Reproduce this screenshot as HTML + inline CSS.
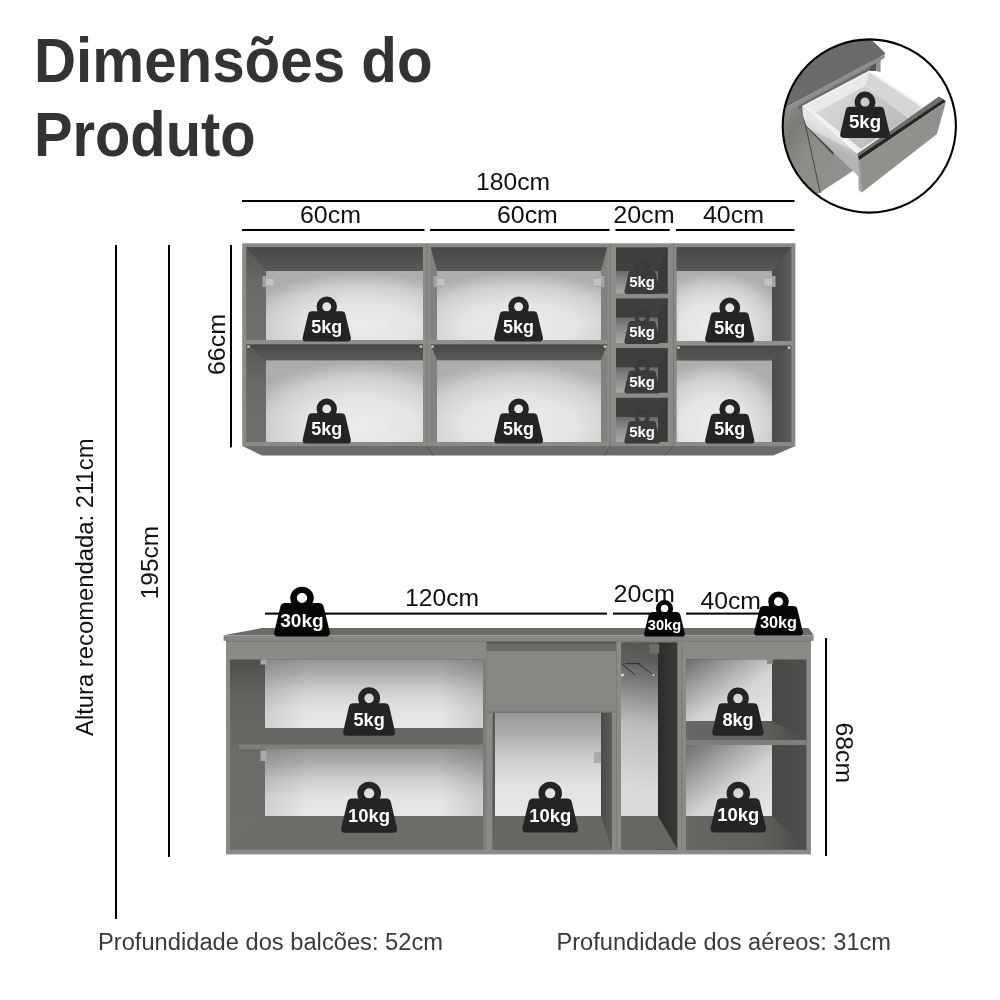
<!DOCTYPE html>
<html><head><meta charset="utf-8"><title>Dimens&#245;es do Produto</title>
<style>html,body{margin:0;padding:0;background:#fff;}body{width:1000px;height:1000px;overflow:hidden;font-family:"Liberation Sans", sans-serif;}svg{display:block;will-change:transform;font-family:"Liberation Sans", sans-serif;}</style>
</head><body>
<svg width="1000" height="1000" viewBox="0 0 1000 1000">
<defs>
<linearGradient id="bpv" x1="0" y1="0" x2="0" y2="1"><stop offset="0" stop-color="#b4b4b4"/><stop offset="0.3" stop-color="#d2d2d2"/><stop offset="0.7" stop-color="#e4e4e4"/><stop offset="1" stop-color="#e8e8e8"/></linearGradient>
<linearGradient id="bpl" x1="0" y1="0" x2="0" y2="1"><stop offset="0" stop-color="#969696"/><stop offset="0.2" stop-color="#acacac"/><stop offset="0.45" stop-color="#cdcdcd"/><stop offset="0.7" stop-color="#e2e2e2"/><stop offset="1" stop-color="#e8e8e8"/></linearGradient>
<linearGradient id="nv" gradientUnits="userSpaceOnUse" x1="652" y1="643" x2="630" y2="790"><stop offset="0" stop-color="#555653"/><stop offset="0.14" stop-color="#5f605d"/><stop offset="0.32" stop-color="#878787"/><stop offset="0.55" stop-color="#bcbcbc"/><stop offset="1" stop-color="#dadada"/></linearGradient>
<linearGradient id="bpr" gradientUnits="objectBoundingBox" x1="0" y1="0" x2="0.9" y2="1"><stop offset="0" stop-color="#6c6c6c"/><stop offset="0.3" stop-color="#a2a2a2"/><stop offset="0.6" stop-color="#d4d4d4"/><stop offset="1" stop-color="#e6e6e6"/></linearGradient>
<linearGradient id="flr" x1="0" y1="0" x2="1" y2="0"><stop offset="0" stop-color="#666864"/><stop offset="0.6" stop-color="#60625e"/><stop offset="1" stop-color="#4a4b48"/></linearGradient>
<linearGradient id="dw2" x1="0" y1="0" x2="1" y2="0"><stop offset="0" stop-color="#2b2b2a"/><stop offset="1" stop-color="#3b3b39"/></linearGradient>
<radialGradient id="rb1" cx="0.60" cy="0.8" r="0.78" fx="0.60" fy="0.8"><stop offset="0" stop-color="#ececec"/><stop offset="0.45" stop-color="#e4e4e4"/><stop offset="0.75" stop-color="#cfcfcf"/><stop offset="1" stop-color="#adadad"/></radialGradient>
<radialGradient id="rb2" cx="0.50" cy="0.8" r="0.78" fx="0.50" fy="0.8"><stop offset="0" stop-color="#ececec"/><stop offset="0.45" stop-color="#e4e4e4"/><stop offset="0.75" stop-color="#cfcfcf"/><stop offset="1" stop-color="#adadad"/></radialGradient>
<radialGradient id="rb4" cx="0.40" cy="0.8" r="0.78" fx="0.40" fy="0.8"><stop offset="0" stop-color="#ececec"/><stop offset="0.45" stop-color="#e4e4e4"/><stop offset="0.75" stop-color="#cfcfcf"/><stop offset="1" stop-color="#adadad"/></radialGradient>
<linearGradient id="bph" x1="0" y1="0" x2="1" y2="0"><stop offset="0" stop-color="#000" stop-opacity="0.22"/><stop offset="0.18" stop-color="#000" stop-opacity="0"/><stop offset="0.82" stop-color="#000" stop-opacity="0"/><stop offset="1" stop-color="#000" stop-opacity="0.22"/></linearGradient>
<linearGradient id="bph2" x1="0" y1="0" x2="1" y2="0"><stop offset="0" stop-color="#000" stop-opacity="0.10"/><stop offset="0.2" stop-color="#000" stop-opacity="0"/><stop offset="0.8" stop-color="#000" stop-opacity="0"/><stop offset="1" stop-color="#000" stop-opacity="0.12"/></linearGradient>
<linearGradient id="bpd3" x1="0" y1="0" x2="0" y2="1"><stop offset="0" stop-color="#6a6a6a"/><stop offset="0.5" stop-color="#8c8c8c"/><stop offset="1" stop-color="#a8a8a8"/></linearGradient>
<linearGradient id="ceil" x1="0" y1="0" x2="0" y2="1"><stop offset="0" stop-color="#474846"/><stop offset="1" stop-color="#595a57"/></linearGradient>
<linearGradient id="wl2" x1="0" y1="0" x2="0" y2="1"><stop offset="0" stop-color="#4e4f4c"/><stop offset="0.2" stop-color="#62635f"/><stop offset="0.5" stop-color="#6a6c68"/><stop offset="1" stop-color="#6c6e6a"/></linearGradient>
<linearGradient id="wl" x1="0" y1="0" x2="0" y2="1"><stop offset="0" stop-color="#555653"/><stop offset="0.4" stop-color="#686a66"/><stop offset="1" stop-color="#6e706c"/></linearGradient>
<linearGradient id="bpd" x1="0" y1="0" x2="0" y2="1"><stop offset="0" stop-color="#6c6c6c"/><stop offset="0.3" stop-color="#9a9a9a"/><stop offset="0.7" stop-color="#d2d2d2"/><stop offset="1" stop-color="#e2e2e2"/></linearGradient>
<linearGradient id="dwu" x1="0" y1="0" x2="1" y2="0"><stop offset="0" stop-color="#4a4b48"/><stop offset="1" stop-color="#5c5d5a"/></linearGradient>
<linearGradient id="dw" x1="0" y1="0" x2="1" y2="0"><stop offset="0" stop-color="#3a3b38"/><stop offset="1" stop-color="#4e4f4c"/></linearGradient>
<linearGradient id="nich" x1="0" y1="0" x2="1" y2="0"><stop offset="0" stop-color="#7a7a7a"/><stop offset="0.45" stop-color="#e0e0e0"/><stop offset="1" stop-color="#a8a8a8"/></linearGradient>
<linearGradient id="cabf" gradientUnits="userSpaceOnUse" x1="775" y1="120" x2="850" y2="170"><stop offset="0" stop-color="#8e908b"/><stop offset="0.22" stop-color="#7a7b78"/><stop offset="0.5" stop-color="#8b8d88"/><stop offset="1" stop-color="#8f918c"/></linearGradient>
<linearGradient id="dwl" gradientUnits="userSpaceOnUse" x1="835" y1="130" x2="827" y2="146"><stop offset="0" stop-color="#e6e6e6"/><stop offset="0.55" stop-color="#dadada"/><stop offset="0.6" stop-color="#c2c2c2"/><stop offset="1" stop-color="#b4b4b4"/></linearGradient>
<linearGradient id="dfl" gradientUnits="userSpaceOnUse" x1="830" y1="100" x2="880" y2="145"><stop offset="0" stop-color="#d6d6d6"/><stop offset="1" stop-color="#bcbcbc"/></linearGradient>
<clipPath id="cc"><circle cx="869.3" cy="126" r="86.4"/></clipPath>
</defs>
<rect width="1000" height="1000" fill="#fff"/>
<text x="34.0" y="81.6" font-size="63.20" font-weight="bold" fill="#333" text-anchor="start" textLength="398.5" lengthAdjust="spacingAndGlyphs" >Dimens&#245;es do</text>
<text x="34.0" y="156.3" font-size="63.20" font-weight="bold" fill="#333" text-anchor="start" textLength="221.5" lengthAdjust="spacingAndGlyphs" >Produto</text>
<rect x="242.0" y="200.0" width="552.5" height="2.0" fill="#000"/>
<rect x="242.0" y="229.0" width="182.5" height="2.0" fill="#000"/>
<rect x="430.0" y="229.0" width="179.5" height="2.0" fill="#000"/>
<rect x="615.5" y="229.0" width="54.2" height="2.0" fill="#000"/>
<rect x="676.0" y="229.0" width="118.5" height="2.0" fill="#000"/>
<text x="476.0" y="190.0" font-size="23.10" font-weight="normal" fill="#111" text-anchor="start" textLength="74.0" lengthAdjust="spacingAndGlyphs" >180cm</text>
<text x="300.0" y="223.3" font-size="23.10" font-weight="normal" fill="#111" text-anchor="start" textLength="61.0" lengthAdjust="spacingAndGlyphs" >60cm</text>
<text x="497.0" y="223.3" font-size="23.10" font-weight="normal" fill="#111" text-anchor="start" textLength="60.8" lengthAdjust="spacingAndGlyphs" >60cm</text>
<text x="613.2" y="223.3" font-size="23.10" font-weight="normal" fill="#111" text-anchor="start" textLength="61.4" lengthAdjust="spacingAndGlyphs" >20cm</text>
<text x="703.0" y="223.3" font-size="23.10" font-weight="normal" fill="#111" text-anchor="start" textLength="61.0" lengthAdjust="spacingAndGlyphs" >40cm</text>
<rect x="115.0" y="245.0" width="2.0" height="674.0" fill="#000"/>
<rect x="168.0" y="245.0" width="2.0" height="612.0" fill="#000"/>
<rect x="230.0" y="245.0" width="2.0" height="202.4" fill="#000"/>
<g transform="translate(92.5,736) rotate(-90)">
<text x="0.0" y="0.0" font-size="23.10" font-weight="normal" fill="#111" text-anchor="start" textLength="297.5" lengthAdjust="spacingAndGlyphs" >Altura recomendada: 211cm</text>
</g>
<g transform="translate(158.2,599.2) rotate(-90)">
<text x="0.0" y="0.0" font-size="23.10" font-weight="normal" fill="#111" text-anchor="start" textLength="73.2" lengthAdjust="spacingAndGlyphs" >195cm</text>
</g>
<g transform="translate(225.3,375) rotate(-90)">
<text x="0.0" y="0.0" font-size="23.10" font-weight="normal" fill="#111" text-anchor="start" textLength="61.0" lengthAdjust="spacingAndGlyphs" >66cm</text>
</g>
<text x="98.0" y="949.8" font-size="23.10" font-weight="normal" fill="#3a3a3a" text-anchor="start" textLength="345.0" lengthAdjust="spacingAndGlyphs" >Profundidade dos balc&#245;es: 52cm</text>
<text x="556.5" y="949.8" font-size="23.10" font-weight="normal" fill="#3a3a3a" text-anchor="start" textLength="334.5" lengthAdjust="spacingAndGlyphs" >Profundidade dos a&#233;reos: 31cm</text>
<polygon points="242.3,446.0 795.4,446.0 773.4,455.5 262.0,455.5" fill="#6b6d69" />
<path d="M427,446 L433,455.5 M610,446 L604.5,455.5 M673.5,446 L665,455.5" stroke="#575855" stroke-width="1" fill="none"/>
<rect x="242.3" y="445.2" width="553.1" height="1.0" fill="#7b7d78" />
<rect x="242.2" y="243.3" width="184.8" height="202.7" fill="#898b86" />
<rect x="427.0" y="243.3" width="183.0" height="202.7" fill="#898b86" />
<rect x="426.6" y="243.3" width="0.8" height="202.7" fill="#777974" />
<rect x="610.0" y="243.3" width="63.5" height="202.7" fill="#898b86" />
<rect x="609.5" y="243.3" width="1.0" height="202.7" fill="#777974" />
<rect x="673.5" y="243.3" width="121.9" height="202.7" fill="#898b86" />
<rect x="673.0" y="243.3" width="1.0" height="202.7" fill="#777974" />
<rect x="246.2" y="247.2" width="176.8" height="93.0" fill="url(#wl)" />
<rect x="266.0" y="271.0" width="157.0" height="69.2" fill="url(#rb1)" />
<polygon points="246.2,247.2 423.0,247.2 423.0,271.0 266.0,271.0" fill="url(#ceil)" />
<rect x="246.2" y="344.2" width="176.8" height="97.8" fill="url(#wl)" />
<rect x="266.0" y="360.2" width="157.0" height="81.8" fill="url(#rb1)" />
<polygon points="246.2,344.2 423.0,344.2 423.0,360.2 266.0,360.2" fill="url(#ceil)" />
<rect x="246.2" y="340.2" width="176.8" height="4.0" fill="#8d8f8a" />
<rect x="430.6" y="247.2" width="176.6" height="93.0" fill="#80827d" />
<rect x="601.0" y="247.2" width="6.2" height="93.0" fill="#80827d" />
<rect x="437.0" y="271.0" width="164.0" height="69.2" fill="url(#rb2)" />
<polygon points="430.6,247.2 607.2,247.2 601.0,271.0 437.0,271.0" fill="url(#ceil)" />
<rect x="430.6" y="344.2" width="176.6" height="97.8" fill="#80827d" />
<rect x="601.0" y="344.2" width="6.2" height="97.8" fill="#80827d" />
<rect x="437.0" y="360.2" width="164.0" height="81.8" fill="url(#rb2)" />
<polygon points="430.6,344.2 607.2,344.2 601.0,360.2 437.0,360.2" fill="url(#ceil)" />
<rect x="430.6" y="340.2" width="176.6" height="4.0" fill="#8d8f8a" />
<rect x="616.0" y="247.6" width="51.7" height="46.2" fill="#6d6f6b" />
<rect x="657.8" y="247.6" width="9.9" height="46.2" fill="#3a3b39" />
<rect x="616.0" y="271.1" width="41.8" height="22.7" fill="url(#bpd3)" />
<polygon points="616.0,247.6 667.7,247.6 657.8,271.1 616.0,271.1" fill="#3f403e" />
<rect x="616.0" y="298.3" width="51.7" height="44.7" fill="#6d6f6b" />
<rect x="657.8" y="298.3" width="9.9" height="44.7" fill="#3a3b39" />
<rect x="616.0" y="317.6" width="41.8" height="25.4" fill="url(#bpd3)" />
<polygon points="616.0,298.3 667.7,298.3 657.8,317.6 616.0,317.6" fill="#3f403e" />
<rect x="616.0" y="348.0" width="51.7" height="44.8" fill="#6d6f6b" />
<rect x="657.8" y="348.0" width="9.9" height="44.8" fill="#3a3b39" />
<rect x="616.0" y="367.3" width="41.8" height="25.5" fill="url(#bpd3)" />
<polygon points="616.0,348.0 667.7,348.0 657.8,367.3 616.0,367.3" fill="#3f403e" />
<rect x="616.0" y="397.6" width="51.7" height="44.2" fill="#6d6f6b" />
<rect x="657.8" y="397.6" width="9.9" height="44.2" fill="#3a3b39" />
<rect x="616.0" y="416.9" width="41.8" height="24.9" fill="url(#bpd3)" />
<polygon points="616.0,397.6 667.7,397.6 657.8,416.9 616.0,416.9" fill="#3f403e" />
<rect x="616.0" y="293.8" width="51.7" height="4.5" fill="#8a8c87" />
<rect x="616.0" y="343.0" width="51.7" height="5.0" fill="#8a8c87" />
<rect x="616.0" y="392.8" width="51.7" height="4.8" fill="#8a8c87" />
<rect x="676.6" y="247.2" width="114.7" height="93.8" fill="#6d6f6b" />
<rect x="772.0" y="247.2" width="19.3" height="93.8" fill="url(#dwu)" />
<rect x="676.6" y="271.0" width="95.4" height="70.0" fill="url(#rb4)" />
<polygon points="676.6,247.2 791.3,247.2 772.0,271.0 676.6,271.0" fill="url(#ceil)" />
<rect x="676.6" y="345.4" width="114.7" height="96.6" fill="#6d6f6b" />
<rect x="772.0" y="345.4" width="19.3" height="96.6" fill="url(#dwu)" />
<rect x="676.6" y="360.4" width="95.4" height="81.6" fill="url(#rb4)" />
<polygon points="676.6,345.4 791.3,345.4 772.0,360.4 676.6,360.4" fill="url(#ceil)" />
<rect x="676.6" y="341.0" width="114.7" height="4.4" fill="#8d8f8a" />
<rect x="247.2" y="345.6" width="2.6" height="2.0" fill="#d8d8d8" />
<rect x="419.7" y="345.6" width="2.6" height="2.0" fill="#d8d8d8" />
<rect x="431.2" y="345.6" width="2.6" height="2.0" fill="#d8d8d8" />
<rect x="603.7" y="345.6" width="2.6" height="2.0" fill="#d8d8d8" />
<rect x="677.2" y="346.6" width="2.6" height="2.0" fill="#d8d8d8" />
<rect x="787.7" y="346.6" width="2.6" height="2.0" fill="#d8d8d8" />
<rect x="262.5" y="276.0" width="3.5" height="11.0" fill="#a4a4a2" />
<rect x="266.0" y="279.0" width="7.5" height="8.0" fill="#c4c4c4" />
<rect x="266.0" y="285.6" width="7.5" height="1.4" fill="#a8a8a8" />
<rect x="433.5" y="276.0" width="3.5" height="11.0" fill="#a4a4a2" />
<rect x="437.0" y="279.0" width="7.5" height="8.0" fill="#c4c4c4" />
<rect x="437.0" y="285.6" width="7.5" height="1.4" fill="#a8a8a8" />
<rect x="601.0" y="276.0" width="3.5" height="11.0" fill="#a4a4a2" />
<rect x="593.5" y="279.0" width="7.5" height="8.0" fill="#c4c4c4" />
<rect x="593.5" y="285.6" width="7.5" height="1.4" fill="#a8a8a8" />
<rect x="772.0" y="276.0" width="3.5" height="11.0" fill="#a4a4a2" />
<rect x="764.5" y="279.0" width="7.5" height="8.0" fill="#c4c4c4" />
<rect x="764.5" y="285.6" width="7.5" height="1.4" fill="#a8a8a8" />
<g transform="translate(302.50,295.80) scale(0.9898,1.0000)" fill="#242424" opacity="1.00"><path fill-rule="evenodd" d="M14.2,10.9 a10.3,10.3 0 1,0 20.6,0 a10.3,10.3 0 1,0 -20.6,0 Z M20,10.9 a4.5,4.5 0 1,0 9,0 a4.5,4.5 0 1,0 -9,0 Z"/><path d="M9.6,15.4 H39.4 Q42.7,15.4 43.4,18.6 L48.7,41.2 Q49.7,45.7 45.3,45.7 H3.7 Q-0.7,45.7 0.3,41.2 L5.6,18.6 Q6.3,15.4 9.6,15.4 Z"/></g>
<text x="326.8" y="332.6" font-size="17.60" font-weight="bold" fill="#fff" text-anchor="middle" textLength="31.0" lengthAdjust="spacingAndGlyphs" >5kg</text>
<g transform="translate(494.10,295.80) scale(1.0000,1.0000)" fill="#242424" opacity="1.00"><path fill-rule="evenodd" d="M14.2,10.9 a10.3,10.3 0 1,0 20.6,0 a10.3,10.3 0 1,0 -20.6,0 Z M20,10.9 a4.5,4.5 0 1,0 9,0 a4.5,4.5 0 1,0 -9,0 Z"/><path d="M9.6,15.4 H39.4 Q42.7,15.4 43.4,18.6 L48.7,41.2 Q49.7,45.7 45.3,45.7 H3.7 Q-0.7,45.7 0.3,41.2 L5.6,18.6 Q6.3,15.4 9.6,15.4 Z"/></g>
<text x="518.6" y="332.6" font-size="17.60" font-weight="bold" fill="#fff" text-anchor="middle" textLength="31.0" lengthAdjust="spacingAndGlyphs" >5kg</text>
<g transform="translate(302.50,398.00) scale(0.9898,0.9978)" fill="#242424" opacity="1.00"><path fill-rule="evenodd" d="M14.2,10.9 a10.3,10.3 0 1,0 20.6,0 a10.3,10.3 0 1,0 -20.6,0 Z M20,10.9 a4.5,4.5 0 1,0 9,0 a4.5,4.5 0 1,0 -9,0 Z"/><path d="M9.6,15.4 H39.4 Q42.7,15.4 43.4,18.6 L48.7,41.2 Q49.7,45.7 45.3,45.7 H3.7 Q-0.7,45.7 0.3,41.2 L5.6,18.6 Q6.3,15.4 9.6,15.4 Z"/></g>
<text x="326.8" y="434.7" font-size="17.60" font-weight="bold" fill="#fff" text-anchor="middle" textLength="31.0" lengthAdjust="spacingAndGlyphs" >5kg</text>
<g transform="translate(494.10,398.00) scale(1.0000,0.9978)" fill="#242424" opacity="1.00"><path fill-rule="evenodd" d="M14.2,10.9 a10.3,10.3 0 1,0 20.6,0 a10.3,10.3 0 1,0 -20.6,0 Z M20,10.9 a4.5,4.5 0 1,0 9,0 a4.5,4.5 0 1,0 -9,0 Z"/><path d="M9.6,15.4 H39.4 Q42.7,15.4 43.4,18.6 L48.7,41.2 Q49.7,45.7 45.3,45.7 H3.7 Q-0.7,45.7 0.3,41.2 L5.6,18.6 Q6.3,15.4 9.6,15.4 Z"/></g>
<text x="518.6" y="434.7" font-size="17.60" font-weight="bold" fill="#fff" text-anchor="middle" textLength="31.0" lengthAdjust="spacingAndGlyphs" >5kg</text>
<g transform="translate(705.00,297.00) scale(1.0102,0.9956)" fill="#242424" opacity="1.00"><path fill-rule="evenodd" d="M14.2,10.9 a10.3,10.3 0 1,0 20.6,0 a10.3,10.3 0 1,0 -20.6,0 Z M20,10.9 a4.5,4.5 0 1,0 9,0 a4.5,4.5 0 1,0 -9,0 Z"/><path d="M9.6,15.4 H39.4 Q42.7,15.4 43.4,18.6 L48.7,41.2 Q49.7,45.7 45.3,45.7 H3.7 Q-0.7,45.7 0.3,41.2 L5.6,18.6 Q6.3,15.4 9.6,15.4 Z"/></g>
<text x="729.8" y="333.6" font-size="17.60" font-weight="bold" fill="#fff" text-anchor="middle" textLength="31.0" lengthAdjust="spacingAndGlyphs" >5kg</text>
<g transform="translate(705.00,398.50) scale(1.0102,0.9869)" fill="#242424" opacity="1.00"><path fill-rule="evenodd" d="M14.2,10.9 a10.3,10.3 0 1,0 20.6,0 a10.3,10.3 0 1,0 -20.6,0 Z M20,10.9 a4.5,4.5 0 1,0 9,0 a4.5,4.5 0 1,0 -9,0 Z"/><path d="M9.6,15.4 H39.4 Q42.7,15.4 43.4,18.6 L48.7,41.2 Q49.7,45.7 45.3,45.7 H3.7 Q-0.7,45.7 0.3,41.2 L5.6,18.6 Q6.3,15.4 9.6,15.4 Z"/></g>
<text x="729.8" y="434.8" font-size="17.60" font-weight="bold" fill="#fff" text-anchor="middle" textLength="31.0" lengthAdjust="spacingAndGlyphs" >5kg</text>
<g transform="translate(624.30,259.30) scale(0.7286,0.7571)" fill="#3b3b3b" opacity="1.00"><path fill-rule="evenodd" d="M14.2,10.9 a10.3,10.3 0 1,0 20.6,0 a10.3,10.3 0 1,0 -20.6,0 Z M20,10.9 a4.5,4.5 0 1,0 9,0 a4.5,4.5 0 1,0 -9,0 Z"/><path d="M9.6,15.4 H39.4 Q42.7,15.4 43.4,18.6 L48.7,41.2 Q49.7,45.7 45.3,45.7 H3.7 Q-0.7,45.7 0.3,41.2 L5.6,18.6 Q6.3,15.4 9.6,15.4 Z"/></g>
<text x="642.1" y="286.9" font-size="14.20" font-weight="bold" fill="#fff" text-anchor="middle" textLength="25.8" lengthAdjust="spacingAndGlyphs" >5kg</text>
<g transform="translate(624.30,309.30) scale(0.7286,0.7593)" fill="#3b3b3b" opacity="1.00"><path fill-rule="evenodd" d="M14.2,10.9 a10.3,10.3 0 1,0 20.6,0 a10.3,10.3 0 1,0 -20.6,0 Z M20,10.9 a4.5,4.5 0 1,0 9,0 a4.5,4.5 0 1,0 -9,0 Z"/><path d="M9.6,15.4 H39.4 Q42.7,15.4 43.4,18.6 L48.7,41.2 Q49.7,45.7 45.3,45.7 H3.7 Q-0.7,45.7 0.3,41.2 L5.6,18.6 Q6.3,15.4 9.6,15.4 Z"/></g>
<text x="642.1" y="336.9" font-size="14.20" font-weight="bold" fill="#fff" text-anchor="middle" textLength="25.8" lengthAdjust="spacingAndGlyphs" >5kg</text>
<g transform="translate(624.30,359.00) scale(0.7286,0.7527)" fill="#3b3b3b" opacity="1.00"><path fill-rule="evenodd" d="M14.2,10.9 a10.3,10.3 0 1,0 20.6,0 a10.3,10.3 0 1,0 -20.6,0 Z M20,10.9 a4.5,4.5 0 1,0 9,0 a4.5,4.5 0 1,0 -9,0 Z"/><path d="M9.6,15.4 H39.4 Q42.7,15.4 43.4,18.6 L48.7,41.2 Q49.7,45.7 45.3,45.7 H3.7 Q-0.7,45.7 0.3,41.2 L5.6,18.6 Q6.3,15.4 9.6,15.4 Z"/></g>
<text x="642.1" y="386.6" font-size="14.20" font-weight="bold" fill="#fff" text-anchor="middle" textLength="25.8" lengthAdjust="spacingAndGlyphs" >5kg</text>
<g transform="translate(624.30,409.40) scale(0.7286,0.7484)" fill="#3b3b3b" opacity="1.00"><path fill-rule="evenodd" d="M14.2,10.9 a10.3,10.3 0 1,0 20.6,0 a10.3,10.3 0 1,0 -20.6,0 Z M20,10.9 a4.5,4.5 0 1,0 9,0 a4.5,4.5 0 1,0 -9,0 Z"/><path d="M9.6,15.4 H39.4 Q42.7,15.4 43.4,18.6 L48.7,41.2 Q49.7,45.7 45.3,45.7 H3.7 Q-0.7,45.7 0.3,41.2 L5.6,18.6 Q6.3,15.4 9.6,15.4 Z"/></g>
<text x="642.1" y="437.0" font-size="14.20" font-weight="bold" fill="#fff" text-anchor="middle" textLength="25.8" lengthAdjust="spacingAndGlyphs" >5kg</text>
<rect x="226.0" y="640.0" width="585.0" height="214.4" fill="#898b86" />
<polygon points="262.0,628.0 808.5,628.0 813.6,635.3 223.6,635.3" fill="#6a6c68" />
<rect x="223.6" y="635.3" width="590.0" height="5.5" fill="#858782" />
<rect x="226.0" y="640.8" width="585.0" height="1.0" fill="#777974" />
<rect x="230.0" y="659.5" width="253.0" height="190.0" fill="url(#wl2)" />
<rect x="265.0" y="659.5" width="218.0" height="68.5" fill="url(#bpl)" />
<rect x="265.0" y="749.0" width="218.0" height="67.0" fill="url(#bpl)" />
<rect x="265.0" y="659.5" width="218.0" height="68.5" fill="url(#bph2)" />
<rect x="265.0" y="749.0" width="218.0" height="67.0" fill="url(#bph2)" />
<polygon points="265.0,728.0 483.0,728.0 483.0,744.5 239.0,744.5" fill="#666864" />
<rect x="239.0" y="744.5" width="244.0" height="4.5" fill="#7d7f7a" />
<polygon points="265.0,816.0 483.0,816.0 483.0,849.5 230.0,849.5" fill="#6b6d69" />
<rect x="483.0" y="659.5" width="9.5" height="190.0" fill="#898b86" />
<rect x="483.0" y="659.5" width="3.5" height="190.0" fill="#7b7d78" />
<rect x="486.4" y="641.8" width="130.0" height="10.2" fill="#6a6b68" />
<rect x="486.4" y="641.8" width="130.0" height="1.6" fill="#555653" />
<rect x="492.5" y="652.0" width="119.5" height="197.5" fill="#5a5b58" />
<rect x="495.0" y="712.0" width="106.0" height="104.0" fill="url(#bpl)" />
<rect x="601.0" y="712.0" width="11.0" height="137.5" fill="url(#dwu)" />
<polygon points="495.0,816.0 601.0,816.0 612.0,849.5 492.5,849.5" fill="#666864" />
<rect x="486.4" y="651.0" width="130.0" height="61.4" fill="#858782" />
<rect x="486.4" y="711.6" width="130.0" height="1.2" fill="#6e706b" />
<rect x="612.0" y="712.4" width="9.0" height="137.1" fill="#898b86" />
<rect x="616.4" y="641.8" width="0.8" height="207.7" fill="#72746f" />
<rect x="617.0" y="641.8" width="4.0" height="207.7" fill="#898b86" />
<rect x="621.0" y="642.6" width="56.5" height="206.9" fill="#4c4d4a" />
<rect x="621.0" y="642.6" width="37.0" height="173.4" fill="url(#nv)" />
<rect x="658.0" y="642.6" width="19.5" height="206.9" fill="url(#dw2)" />
<polygon points="621.0,816.0 658.0,816.0 677.5,849.5 621.0,849.5" fill="#666864" />
<rect x="677.5" y="641.8" width="8.5" height="207.7" fill="#898b86" />
<rect x="681.4" y="641.8" width="0.8" height="207.7" fill="#72746f" />
<rect x="649.4" y="644.3" width="9.9" height="9.3" fill="#6e6f6c" />
<path d="M621.4,663.5 L635.1,675 M637.9,663.5 L653.3,675 M625,663.6 H640" stroke="#2e2e2d" stroke-width="1" fill="none"/>
<circle cx="653.3" cy="675" r="1" fill="#e8e8e8"/>
<circle cx="622.4" cy="675" r="1.6" fill="#d8d8d8"/>
<rect x="686.0" y="659.5" width="120.5" height="190.0" fill="url(#dw)" />
<rect x="686.0" y="659.5" width="86.0" height="61.5" fill="url(#bpr)" />
<rect x="686.0" y="745.0" width="86.0" height="71.0" fill="url(#bpr)" />
<polygon points="686.0,721.0 772.0,721.0 806.5,740.0 686.0,740.0" fill="url(#flr)" />
<rect x="686.0" y="740.0" width="120.5" height="5.0" fill="#7d7f7a" />
<polygon points="686.0,816.0 772.0,816.0 806.5,849.5 686.0,849.5" fill="url(#flr)" />
<rect x="260.5" y="659.5" width="6.0" height="5.0" fill="#a9aaa7" />
<rect x="260.5" y="750.5" width="6.0" height="10.5" fill="#a9aaa7" />
<rect x="594.0" y="752.0" width="7.0" height="11.0" fill="#a9aaa7" />
<rect x="767.0" y="659.5" width="6.0" height="4.5" fill="#8a8b88" />
<rect x="265.0" y="612.6" width="342.0" height="2.0" fill="#000"/>
<rect x="613.0" y="612.6" width="37.0" height="2.0" fill="#000"/>
<rect x="686.0" y="612.6" width="74.0" height="2.0" fill="#000"/>
<text x="405.0" y="606.4" font-size="23.10" font-weight="normal" fill="#111" text-anchor="start" textLength="74.0" lengthAdjust="spacingAndGlyphs" >120cm</text>
<text x="613.6" y="602.2" font-size="23.10" font-weight="normal" fill="#111" text-anchor="start" textLength="61.4" lengthAdjust="spacingAndGlyphs" >20cm</text>
<text x="700.4" y="608.6" font-size="23.10" font-weight="normal" fill="#111" text-anchor="start" textLength="60.6" lengthAdjust="spacingAndGlyphs" >40cm</text>
<rect x="825.0" y="638.0" width="2.0" height="218.0" fill="#000"/>
<g transform="translate(835.6,722.6) rotate(90)">
<text x="0.0" y="0.0" font-size="23.10" font-weight="normal" fill="#111" text-anchor="start" textLength="60.4" lengthAdjust="spacingAndGlyphs" >68cm</text>
</g>
<g transform="translate(274.00,586.00) scale(1.1429,1.1072)" fill="#060606" opacity="1.00"><path fill-rule="evenodd" d="M14.2,10.9 a10.3,10.3 0 1,0 20.6,0 a10.3,10.3 0 1,0 -20.6,0 Z M20,10.9 a4.5,4.5 0 1,0 9,0 a4.5,4.5 0 1,0 -9,0 Z"/><path d="M9.6,15.4 H39.4 Q42.7,15.4 43.4,18.6 L48.7,41.2 Q49.7,45.7 45.3,45.7 H3.7 Q-0.7,45.7 0.3,41.2 L5.6,18.6 Q6.3,15.4 9.6,15.4 Z"/></g>
<text x="302.0" y="627.2" font-size="17.60" font-weight="bold" fill="#fff" text-anchor="middle" textLength="43.6" lengthAdjust="spacingAndGlyphs" >30kg</text>
<g transform="translate(644.00,599.60) scale(0.8367,0.8096)" fill="#060606" opacity="1.00"><path fill-rule="evenodd" d="M14.2,10.9 a10.3,10.3 0 1,0 20.6,0 a10.3,10.3 0 1,0 -20.6,0 Z M20,10.9 a4.5,4.5 0 1,0 9,0 a4.5,4.5 0 1,0 -9,0 Z"/><path d="M9.6,15.4 H39.4 Q42.7,15.4 43.4,18.6 L48.7,41.2 Q49.7,45.7 45.3,45.7 H3.7 Q-0.7,45.7 0.3,41.2 L5.6,18.6 Q6.3,15.4 9.6,15.4 Z"/></g>
<text x="664.5" y="629.5" font-size="14.00" font-weight="bold" fill="#fff" text-anchor="middle" textLength="33.4" lengthAdjust="spacingAndGlyphs" >30kg</text>
<g transform="translate(754.00,591.00) scale(1.0000,0.9759)" fill="#060606" opacity="1.00"><path fill-rule="evenodd" d="M14.2,10.9 a10.3,10.3 0 1,0 20.6,0 a10.3,10.3 0 1,0 -20.6,0 Z M20,10.9 a4.5,4.5 0 1,0 9,0 a4.5,4.5 0 1,0 -9,0 Z"/><path d="M9.6,15.4 H39.4 Q42.7,15.4 43.4,18.6 L48.7,41.2 Q49.7,45.7 45.3,45.7 H3.7 Q-0.7,45.7 0.3,41.2 L5.6,18.6 Q6.3,15.4 9.6,15.4 Z"/></g>
<text x="778.5" y="628.2" font-size="15.60" font-weight="bold" fill="#fff" text-anchor="middle" textLength="37.2" lengthAdjust="spacingAndGlyphs" >30kg</text>
<g transform="translate(343.00,686.60) scale(1.0653,1.0766)" fill="#242424" opacity="1.00"><path fill-rule="evenodd" d="M14.2,10.9 a10.3,10.3 0 1,0 20.6,0 a10.3,10.3 0 1,0 -20.6,0 Z M20,10.9 a4.5,4.5 0 1,0 9,0 a4.5,4.5 0 1,0 -9,0 Z"/><path d="M9.6,15.4 H39.4 Q42.7,15.4 43.4,18.6 L48.7,41.2 Q49.7,45.7 45.3,45.7 H3.7 Q-0.7,45.7 0.3,41.2 L5.6,18.6 Q6.3,15.4 9.6,15.4 Z"/></g>
<text x="369.1" y="725.9" font-size="18.00" font-weight="bold" fill="#fff" text-anchor="middle" textLength="31.2" lengthAdjust="spacingAndGlyphs" >5kg</text>
<g transform="translate(341.00,781.00) scale(1.1490,1.1335)" fill="#242424" opacity="1.00"><path fill-rule="evenodd" d="M14.2,10.9 a10.3,10.3 0 1,0 20.6,0 a10.3,10.3 0 1,0 -20.6,0 Z M20,10.9 a4.5,4.5 0 1,0 9,0 a4.5,4.5 0 1,0 -9,0 Z"/><path d="M9.6,15.4 H39.4 Q42.7,15.4 43.4,18.6 L48.7,41.2 Q49.7,45.7 45.3,45.7 H3.7 Q-0.7,45.7 0.3,41.2 L5.6,18.6 Q6.3,15.4 9.6,15.4 Z"/></g>
<text x="369.1" y="821.6" font-size="17.80" font-weight="bold" fill="#fff" text-anchor="middle" textLength="42.0" lengthAdjust="spacingAndGlyphs" >10kg</text>
<g transform="translate(522.20,781.00) scale(1.1429,1.1291)" fill="#242424" opacity="1.00"><path fill-rule="evenodd" d="M14.2,10.9 a10.3,10.3 0 1,0 20.6,0 a10.3,10.3 0 1,0 -20.6,0 Z M20,10.9 a4.5,4.5 0 1,0 9,0 a4.5,4.5 0 1,0 -9,0 Z"/><path d="M9.6,15.4 H39.4 Q42.7,15.4 43.4,18.6 L48.7,41.2 Q49.7,45.7 45.3,45.7 H3.7 Q-0.7,45.7 0.3,41.2 L5.6,18.6 Q6.3,15.4 9.6,15.4 Z"/></g>
<text x="550.2" y="821.6" font-size="17.80" font-weight="bold" fill="#fff" text-anchor="middle" textLength="42.0" lengthAdjust="spacingAndGlyphs" >10kg</text>
<g transform="translate(712.20,686.80) scale(1.0531,1.0722)" fill="#242424" opacity="1.00"><path fill-rule="evenodd" d="M14.2,10.9 a10.3,10.3 0 1,0 20.6,0 a10.3,10.3 0 1,0 -20.6,0 Z M20,10.9 a4.5,4.5 0 1,0 9,0 a4.5,4.5 0 1,0 -9,0 Z"/><path d="M9.6,15.4 H39.4 Q42.7,15.4 43.4,18.6 L48.7,41.2 Q49.7,45.7 45.3,45.7 H3.7 Q-0.7,45.7 0.3,41.2 L5.6,18.6 Q6.3,15.4 9.6,15.4 Z"/></g>
<text x="738.0" y="725.9" font-size="18.00" font-weight="bold" fill="#fff" text-anchor="middle" textLength="31.2" lengthAdjust="spacingAndGlyphs" >8kg</text>
<g transform="translate(710.40,781.00) scale(1.1388,1.1247)" fill="#242424" opacity="1.00"><path fill-rule="evenodd" d="M14.2,10.9 a10.3,10.3 0 1,0 20.6,0 a10.3,10.3 0 1,0 -20.6,0 Z M20,10.9 a4.5,4.5 0 1,0 9,0 a4.5,4.5 0 1,0 -9,0 Z"/><path d="M9.6,15.4 H39.4 Q42.7,15.4 43.4,18.6 L48.7,41.2 Q49.7,45.7 45.3,45.7 H3.7 Q-0.7,45.7 0.3,41.2 L5.6,18.6 Q6.3,15.4 9.6,15.4 Z"/></g>
<text x="738.3" y="821.4" font-size="17.80" font-weight="bold" fill="#fff" text-anchor="middle" textLength="42.0" lengthAdjust="spacingAndGlyphs" >10kg</text>
<g clip-path="url(#cc)">
<rect x="775.0" y="35.0" width="190.0" height="185.0" fill="#fff" />
<polygon points="770.0,112.0 802.0,103.0 860.0,150.0 860.0,166.3 852.0,171.5 820.1,192.4 790.0,212.0 770.0,212.0" fill="url(#cabf)" />
<line x1="801.4" y1="106.6" x2="820.3" y2="193" stroke="#3c3c3a" stroke-width="0.9"/>
<polygon points="798.0,110.0 876.5,67.5 876.5,59.0 798.0,101.0" fill="#6c6d6a" />
<polygon points="870.0,62.0 876.5,58.5 876.5,71.0 870.0,71.0" fill="#565754" />
<polygon points="876.5,58.5 880.6,56.3 880.6,72.0 876.5,71.3" fill="#8f918c" />
<polygon points="770.0,115.5 770.0,20.0 851.0,20.0 885.0,52.8 884.6,54.6 784.9,107.7 770.0,113.3" fill="#6a6b69" />
<polygon points="770.0,113.3 784.9,107.7 884.6,54.6 885.0,57.6 878.0,62.0 786.0,112.6 770.0,117.6" fill="#8d8f8a" />
<polygon points="804.0,117.0 834.0,150.0 833.0,155.0 805.5,126.0" fill="#4a4b48" />
<polygon points="802.0,106.0 858.6,155.0 858.6,176.5 806.5,126.0 803.0,116.0" fill="url(#dwl)" />
<polygon points="802.0,106.0 869.4,70.4 925.0,107.0 858.4,155.0" fill="#f3f3f3" />
<polygon points="805.3,106.5 869.2,72.6 865.2,86.0 816.0,112.5" fill="#e9e9e9" />
<polygon points="869.2,72.6 922.0,107.5 908.0,118.0 865.2,86.0" fill="#d6d6d6" />
<polygon points="805.3,106.5 816.0,112.5 861.0,149.0 858.6,152.5" fill="#f0f0f0" />
<polygon points="816.0,112.5 865.2,86.0 908.0,118.0 861.0,149.0" fill="url(#dfl)" />
<polygon points="857.2,153.8 939.0,96.6 943.6,99.3 858.3,157.0" fill="#6f706d" />
<polygon points="858.1,156.6 943.4,99.2 946.0,101.6 859.2,160.4" fill="#262626" />
<polygon points="859.2,160.2 946.0,101.6 937.0,134.0 861.8,192.6" fill="#8f918c" />
<polygon points="858.3,159.6 859.6,160.2 862.0,192.8 858.6,190.0" fill="#a3a5a0" />
</g>
<circle cx="869.3" cy="126" r="86.6" fill="none" stroke="#000" stroke-width="2.1"/>
<g transform="translate(840.00,91.00) scale(1.0204,1.0284)" fill="#242424" opacity="1.00"><path fill-rule="evenodd" d="M14.2,10.9 a10.3,10.3 0 1,0 20.6,0 a10.3,10.3 0 1,0 -20.6,0 Z M20,10.9 a4.5,4.5 0 1,0 9,0 a4.5,4.5 0 1,0 -9,0 Z"/><path d="M9.6,15.4 H39.4 Q42.7,15.4 43.4,18.6 L48.7,41.2 Q49.7,45.7 45.3,45.7 H3.7 Q-0.7,45.7 0.3,41.2 L5.6,18.6 Q6.3,15.4 9.6,15.4 Z"/></g>
<text x="865.0" y="127.7" font-size="18.20" font-weight="bold" fill="#fff" text-anchor="middle" textLength="32.2" lengthAdjust="spacingAndGlyphs" >5kg</text>
</svg>
</body></html>
